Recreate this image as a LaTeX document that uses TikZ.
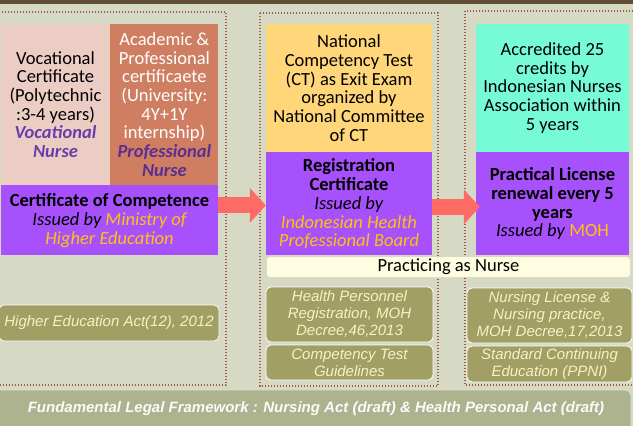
\documentclass[tikz,border=0pt]{standalone}
\usepackage{fontspec}
\setmainfont{Carlito}
\newfontfamily\arialfont{Liberation Sans}
\usetikzlibrary{arrows.meta}

\definecolor{bg}{HTML}{D6D9C4}
\definecolor{topbar}{HTML}{5E4C34}
\definecolor{dots}{HTML}{A3584B}
\definecolor{pinkbox}{HTML}{EBCDC3}
\definecolor{brownbox}{HTML}{CF7E62}
\definecolor{purplebox}{HTML}{A651FB}
\definecolor{yellowbox}{HTML}{FFD67A}
\definecolor{tealbox}{HTML}{77FAD6}
\definecolor{creambox}{HTML}{FFFDE1}
\definecolor{arrowred}{HTML}{FD6B64}
\definecolor{lawbox}{HTML}{A19F63}
\definecolor{lawtext}{HTML}{F7F2C6}
\definecolor{lawbar}{HTML}{ADB38F}
\definecolor{gold}{HTML}{FFC20E}
\definecolor{vocpurple}{HTML}{6B3DAA}
\definecolor{propurple}{HTML}{5B2F90}

\begin{document}
\begin{tikzpicture}[x=1pt,y=-1pt,
    box/.style={inner sep=0pt,align=center,font=\fontsize{18.5}{18.7}\selectfont},
    law/.style={draw=white,line width=0.8pt,rounded corners=5pt,fill=lawbox,inner sep=0pt,
      align=center,text=lawtext,font=\arialfont\itshape\fontsize{15}{17}\selectfont},
    region/.style={draw=dots,line width=1.4pt,dash pattern=on 1.4pt off 1.6pt},
    push/.style={line width=16pt,draw=arrowred,-{Triangle[length=16pt,width=34pt]}}]
  \useasboundingbox (0,0) rectangle (633,426);
  \fill[bg] (0,0) rectangle (633,426);
  \fill[topbar] (0,0) rectangle (633,4);

  % Dotted regions
  \draw[region] (-5,12) rectangle (226,385);
  \draw[region] (260,13) rectangle (438,386);
  \draw[region] (465,11) rectangle (640,385);

  % Education
  \node[box,fill=pinkbox,minimum width=109pt,minimum height=161pt] (voc) at (55.5,104.5)
    {Vocational\\Certificate\\(Polytechnic\\:3-4 years)\\
     \textcolor{vocpurple}{\bfseries\itshape Vocational}\\\textcolor{vocpurple}{\bfseries\itshape Nurse}};
  \node[box,fill=brownbox,text=white,minimum width=108pt,minimum height=161pt,anchor=west] (acad) at (voc.east)
    {Academic \&\\Professional\\certificaete\\(University:\\4Y+1Y\\internship)\\
     \textcolor{propurple}{\bfseries\itshape Professional}\\\textcolor{propurple}{\bfseries\itshape Nurse}};
  \node[box,fill=purplebox,minimum width=217pt,minimum height=70pt,anchor=north west] (cert) at (voc.south west)
    {\textbf{Certificate of Competence}\\\textit{Issued by \textcolor{gold}{Ministry of}}\\\textit{\textcolor{gold}{Higher Education}}};

  % Competency test
  \node[box,fill=yellowbox,minimum width=166pt,minimum height=128pt] (test) at (349,88)
    {National\\Competency Test\\(CT) as Exit Exam\\organized by\\National Committee\\of CT};
  \node[box,fill=purplebox,minimum width=166pt,minimum height=103pt,anchor=north] (reg) at (test.south)
    {\textbf{Registration}\\\textbf{Certificate}\\\textit{Issued by}\\
     \textit{\textcolor{gold}{Indonesian Health}}\\\textit{\textcolor{gold}{Professional Board}}};

  % Licensing
  \node[box,fill=tealbox,minimum width=153pt,minimum height=128pt] (cred) at (552.5,88)
    {Accredited 25\\credits by\\Indonesian Nurses\\Association within\\5 years};
  \node[box,fill=purplebox,minimum width=153pt,minimum height=103pt,anchor=north] (lic) at (cred.south)
    {\textbf{Practical License}\\\textbf{renewal every 5}\\\textbf{years}\\\textit{Issued by} \textcolor{gold}{MOH}};

  \node[box,fill=creambox,rounded corners=3pt,minimum width=363pt,minimum height=20pt] (nurse) at (448.5,267)
    {Practicing as Nurse};

  % Arrows between certificates
  \draw[push] ([yshift=-1.5pt]cert.east |- reg.west) -- ([yshift=-1.5pt]reg.west);
  \draw[push,shorten >=-4pt] ([yshift=-3pt]reg.east) -- ([yshift=-3pt]lic.west);

  % Regulations
  \node[law,minimum width=220pt,minimum height=36pt] (hea) at (109,323) {Higher Education Act(12), 2012};
  \node[law,minimum width=167pt,minimum height=55pt] (hpr) at (349.5,314.5) {Health Personnel\\Registration, MOH\\Decree,46,2013};
  \node[law,minimum width=167pt,minimum height=35pt] (ctg) at (349.5,362.5) {Competency Test\\Guidelines};
  \node[law,minimum width=165pt,minimum height=55pt] (nlic) at (549.5,315.5) {Nursing License \&\\Nursing practice,\\MOH Decree,17,2013};
  \node[law,minimum width=165pt,minimum height=36pt] (sce) at (549.5,364) {Standard Continuing\\Education (PPNI)};

  % Legal framework
  \draw[draw=white!60!lawbar,line width=0.8pt,fill=lawbar,rounded corners=6pt] (-6,390) rectangle (631,440);
  \node[text=white!95!lawbar,font=\arialfont\bfseries\itshape\fontsize{15}{17}\selectfont] (frame) at (316,409)
    {Fundamental Legal Framework : Nursing Act (draft) \& Health Personal Act (draft)};
\end{tikzpicture}
\end{document}
